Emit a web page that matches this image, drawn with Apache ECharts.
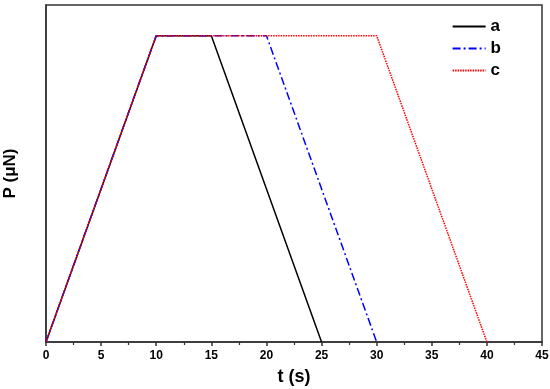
<!DOCTYPE html>
<html><head><meta charset="utf-8">
<script src="https://cdn.jsdelivr.net/npm/echarts@6/dist/echarts.min.js"></script>
<style>html,body{margin:0;padding:0;background:#fff}#c{width:550px;height:389px}</style>
</head><body><div id="c"></div>
<script>
const seriesNames = ['a', 'b', 'c'];
const tA = [0, 10, 15, 25];
const pA = [0, 1, 1, 0];
const tB = [0, 10, 20, 30];
const pB = [0, 1, 1, 0];
const tC = [0, 10, 30, 40];
const pC = [0, 1, 1, 0];
const xTicks = [0, 5, 10, 15, 20, 25, 30, 35, 40, 45];

const zip = (t, p) => t.map((v, i) => [v, p[i]]);
const font = 'Arial, "Liberation Sans", sans-serif';
const chart = echarts.init(document.getElementById('c'));
chart.setOption({
  animation: false,
  grid: { left: 46, right: 8, top: 5, bottom: 47, outerBoundsMode: 'none', containLabel: false,
    show: true, borderColor: '#333', borderWidth: 1.5, backgroundColor: 'transparent' },
  legend: {
    right: 44, top: 13, orient: 'vertical', itemGap: 5, itemWidth: 33, itemHeight: 14,
    itemStyle: { opacity: 0 },
    textStyle: { fontFamily: font, fontWeight: 'bold', fontSize: 17, color: '#000', padding: [0,0,0,0] },
    data: seriesNames
  },
  xAxis: {
    type: 'value', min: xTicks[0], max: xTicks[xTicks.length - 1], interval: 5,
    name: 't (s)', nameLocation: 'middle', nameGap: 26,
    nameTextStyle: { fontFamily: font, fontWeight: 'bold', fontSize: 18, color: '#000' },
    axisLine: { lineStyle: { color: '#333', width: 1.5 } },
    axisTick: { show: true, length: 4, lineStyle: { color: '#333', width: 1.5 } },
    minorTick: { show: true, splitNumber: 2, length: 3, lineStyle: { color: '#333', width: 1.2 } },
    axisLabel: { fontFamily: font, fontWeight: 'bold', fontSize: 12, color: '#000', margin: 8 },
    splitLine: { show: false }
  },
  yAxis: {
    type: 'value', min: 0, max: 1.1,
    name: 'P (μN)', nameLocation: 'middle', nameGap: 27,
    nameTextStyle: { fontFamily: font, fontWeight: 'bold', fontSize: 17, color: '#000' },
    axisLine: { show: true, lineStyle: { color: '#333', width: 1.5 } },
    axisTick: { show: false }, axisLabel: { show: false }, splitLine: { show: false }
  },
  series: [
    { name: seriesNames[0], type: 'line', data: zip(tA, pA), symbol: 'none', z: 3,
      lineStyle: { color: '#000', width: 1.5, type: 'solid' }, itemStyle: { color: '#000' } },
    { name: seriesNames[1], type: 'line', data: zip(tB, pB), symbol: 'none', z: 4,
      lineStyle: { color: '#0000ff', width: 1.5, type: [8, 3, 2, 3] }, itemStyle: { color: '#0000ff' } },
    { name: seriesNames[2], type: 'line', data: zip(tC, pC), symbol: 'none', z: 5,
      lineStyle: { color: '#ff0000', width: 1.5, type: [1.5, 1] }, itemStyle: { color: '#ff0000' } }
  ]
});
</script></body></html>
